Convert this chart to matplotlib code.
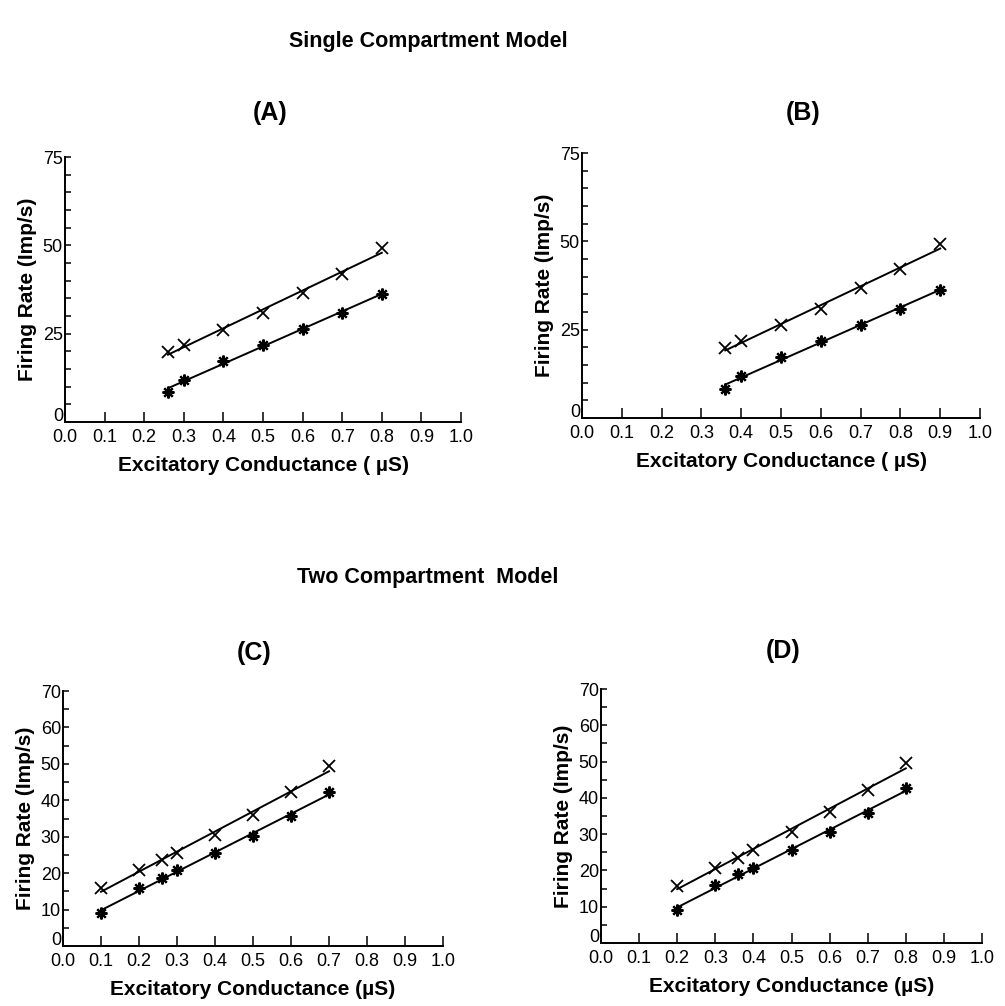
import numpy as np
import matplotlib
matplotlib.use('Agg')
import matplotlib.pyplot as plt
from matplotlib.ticker import MultipleLocator, FuncFormatter

plt.rcParams['font.family'] = ['Liberation Sans', 'DejaVu Sans']

# panel (A): single compartment
a_g = [0.26, 0.3, 0.4, 0.5, 0.6, 0.7, 0.8]
a_cross = [19.8, 21.7, 26.1, 30.9, 36.5, 42.0, 49.3]
a_star = [8.5, 12.0, 17.3, 21.7, 26.2, 30.9, 36.3]

# panel (B): single compartment
b_g = [0.36, 0.4, 0.5, 0.6, 0.7, 0.8, 0.9]
b_cross = [19.8, 21.8, 26.2, 30.8, 36.9, 42.1, 49.2]
b_star = [8.3, 11.9, 17.3, 21.7, 26.4, 30.8, 36.3]

# panel (C): two compartment
c_g = [0.1, 0.2, 0.26, 0.3, 0.4, 0.5, 0.6, 0.7]
c_cross = [15.8, 20.8, 23.6, 25.4, 30.5, 36.0, 42.2, 49.4]
c_star = [9.0, 15.8, 18.8, 20.9, 25.4, 30.3, 35.8, 42.2]

# panel (D): two compartment
d_g = [0.2, 0.3, 0.36, 0.4, 0.5, 0.6, 0.7, 0.8]
d_cross = [15.8, 20.8, 23.4, 25.5, 30.7, 36.0, 42.3, 49.6]
d_star = [9.0, 15.9, 19.0, 20.8, 25.7, 30.5, 35.9, 42.7]

W, H = 1005, 1006
fig = plt.figure(figsize=(W / 100, H / 100), dpi=100)


def px_axes(left, top, right, bottom):
    return fig.add_axes([left / W, 1 - bottom / H, (right - left) / W, (bottom - top) / H])


def draw(ax, g, cross, star, ymax, ystep, xlab, title, tx, ty):
    for ys, mk, ms, mew in [(cross, 'x', 8.5, 1.3), (star, (8, 2, 0), 8.5, 1.6)]:
        p = np.polyfit(g, ys, 1)
        ends = np.array([g[0], g[-1]])
        ax.plot(ends, np.polyval(p, ends), color='black', lw=1.4)
        ax.plot(g, ys, ls='none', marker=mk, ms=ms, mew=mew, color='black')
    ax.set_xlim(0, 1.0)
    ax.set_ylim(0, ymax)
    ax.spines['top'].set_visible(False)
    ax.spines['right'].set_visible(False)
    ax.spines['left'].set_linewidth(1.4)
    ax.spines['bottom'].set_linewidth(1.4)
    ax.set_xticks(np.arange(0, 11) / 10)
    ax.set_xticklabels(['%.1f' % v for v in np.arange(0, 11) / 10])
    ax.yaxis.set_major_locator(MultipleLocator(ystep))
    ax.yaxis.set_minor_locator(MultipleLocator(5))
    # the y "0" is written by hand, just above the "0.0"
    ax.yaxis.set_major_formatter(FuncFormatter(lambda v, pos: '' if v == 0 else '%d' % v))
    ax.annotate('0', xy=(0, 0), xycoords='axes fraction', xytext=(-1.5, -2.5),
                textcoords='offset points', ha='right', va='bottom', fontsize=13)
    ax.tick_params(axis='x', direction='in', length=7, width=1.1, pad=5, labelsize=13)
    ax.tick_params(axis='y', which='both', direction='in', length=4, width=1.1, pad=1.5, labelsize=13)
    ax.set_xlabel(xlab, fontsize=15, fontweight='bold', labelpad=7)
    ax.set_ylabel('Firing Rate (Imp/s)', fontsize=15, fontweight='bold', labelpad=4)
    fig.text(tx / W, 1 - ty / H, title, fontsize=18, fontweight='bold', ha='center', va='center')


ax_a = px_axes(65, 157, 461, 422)
draw(ax_a, a_g, a_cross, a_star, 75, 25, 'Excitatory Conductance ( \u00b5S)', '(A)', 270, 113)
ax_b = px_axes(582, 153, 980, 418)
draw(ax_b, b_g, b_cross, b_star, 75, 25, 'Excitatory Conductance ( \u00b5S)', '(B)', 803, 113)
ax_c = px_axes(63, 691, 443, 946)
draw(ax_c, c_g, c_cross, c_star, 70, 10, 'Excitatory Conductance (\u00b5S)', '(C)', 254, 653)
ax_d = px_axes(601, 689, 982, 943)
draw(ax_d, d_g, d_cross, d_star, 70, 10, 'Excitatory Conductance (\u00b5S)', '(D)', 783, 651)

fig.text(428 / W, 1 - 41 / H, 'Single Compartment Model', fontsize=15.5, fontweight='bold',
         ha='center', va='center')
fig.text(428 / W, 1 - 577 / H, 'Two Compartment  Model', fontsize=15.5, fontweight='bold',
         ha='center', va='center')

fig.savefig('out.png', dpi=100, facecolor='white')
